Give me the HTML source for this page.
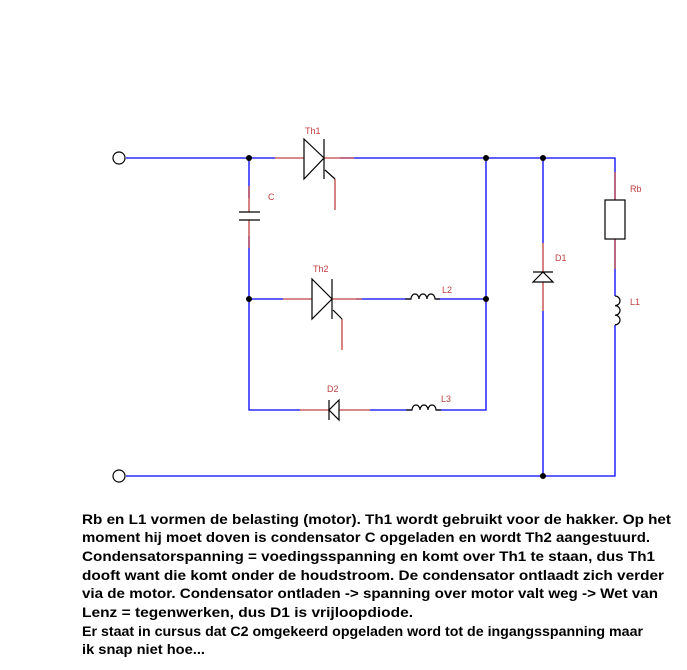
<!DOCTYPE html>
<html><head><style>body{margin:0;background:#fff}svg{display:block}</style></head><body>
<svg width="687" height="670" xmlns="http://www.w3.org/2000/svg" font-family="Liberation Sans, sans-serif">
<g stroke="#0000ff" stroke-width="1.3" fill="none">
<path d="M126 158H249M249 158V198M249 236V299V410H300M486 158V410H437M249 299H283M283 299"/>
<path d="M340 158H543H615V200M543 158V243M543 311V476M615 239V296M615 325V476H126"/>
<path d="M356 299H411M436 299H486M370 410H412"/>
<path d="M249 158H275"/>
</g>
<g stroke="#c04040" stroke-width="1.3" fill="none">
<path d="M275 158H304M324 158H354M249 186V212M249 220V248"/>
<path d="M283 299H312M332 299H362M300 410H329M339 410H370"/>
<path d="M335 179V210M342 319V350M543 243V272M543 282V311M615 172V200M615 239V269"/>
</g>
<g stroke="#000" stroke-width="1.2" fill="none">
<circle cx="119" cy="158" r="6"/>
<circle cx="119" cy="476" r="6"/>
<path d="M304 139L324 158L304 179ZM324 139V179M325 170L335 179"/>
<path d="M312 279L332 299L312 319ZM332 279V319M333 310L342 319"/>
<path d="M339 400L329 410L339 420ZM329 400V420"/>
<path d="M239 212H260M239 220H260"/>
<path d="M533 272H553M533 282L543 272L553 282Z"/>
<rect x="605" y="200" width="20" height="39"/>
<path d="M405 299H411a4 5 0 0 1 8 0a4 5 0 0 1 8 0a4 5 0 0 1 8 0H440"/>
<path d="M406 410H412a4 5 0 0 1 8 0a4 5 0 0 1 8 0a4 5 0 0 1 8 0H441"/>
<path d="M615 296a5 4.8 0 0 1 0 9.6a5 4.8 0 0 1 0 9.6a5 4.8 0 0 1 0 9.6"/>
</g>
<g fill="#000">
<circle cx="249" cy="158" r="3"/><circle cx="249" cy="299" r="3"/>
<circle cx="486" cy="158" r="3"/><circle cx="543" cy="158" r="3"/>
<circle cx="486" cy="299" r="3"/><circle cx="543" cy="476" r="3"/>
</g>
<g fill="#c04040" font-size="9">
<text x="305" y="134">Th1</text><text x="268" y="200">C</text>
<text x="313" y="272">Th2</text><text x="327" y="392">D2</text>
<text x="442" y="293">L2</text><text x="441" y="402">L3</text>
<text x="555" y="261">D1</text><text x="630" y="192">Rb</text><text x="630" y="305">L1</text>
</g>
<g font-size="13.5" font-weight="bold" fill="#000">
<text x="82" y="524" textLength="589" lengthAdjust="spacingAndGlyphs">Rb en L1 vormen de belasting (motor). Th1 wordt gebruikt voor de hakker. Op het</text>
<text x="82" y="542" textLength="568" lengthAdjust="spacingAndGlyphs">moment hij moet doven is condensator C opgeladen en wordt Th2 aangestuurd.</text>
<text x="82" y="561" textLength="573" lengthAdjust="spacingAndGlyphs">Condensatorspanning = voedingsspanning en komt over Th1 te staan, dus Th1</text>
<text x="82" y="580" textLength="582" lengthAdjust="spacingAndGlyphs">dooft want die komt onder de houdstroom. De condensator ontlaadt zich verder</text>
<text x="82" y="598" textLength="576" lengthAdjust="spacingAndGlyphs">via de motor. Condensator ontladen -&gt; spanning over motor valt weg -&gt; Wet van</text>
<text x="82" y="617" textLength="331" lengthAdjust="spacingAndGlyphs">Lenz = tegenwerken, dus D1 is vrijloopdiode.</text>
<text x="82" y="636" textLength="561" lengthAdjust="spacingAndGlyphs">Er staat in cursus dat C2 omgekeerd opgeladen word tot de ingangsspanning maar</text>
<text x="82" y="654" textLength="123" lengthAdjust="spacingAndGlyphs">ik snap niet hoe...</text>
</g>
</svg>
</body></html>
